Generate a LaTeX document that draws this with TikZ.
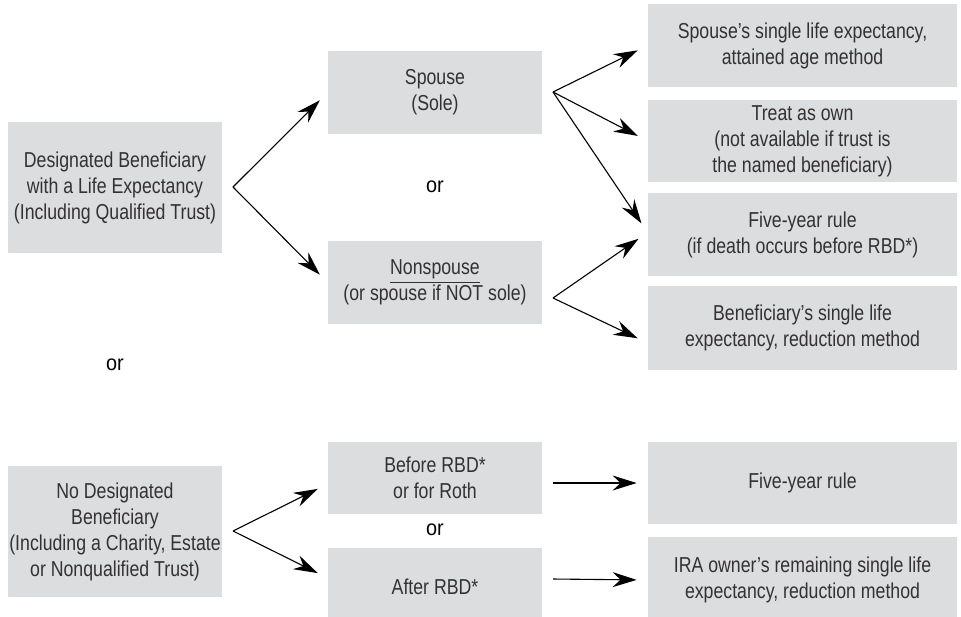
\documentclass[tikz,border=0pt]{standalone}
\usepackage{fontspec}
\setmainfont{Liberation Sans}[FakeStretch=0.82]
\newfontfamily\orfont{Liberation Sans}[FakeStretch=0.92]
\usetikzlibrary{arrows.meta}
\definecolor{boxgray}{RGB}{220,221,223}
\definecolor{inkgray}{RGB}{50,50,50}

\tikzset{
  box/.style={fill=boxgray, inner sep=0pt, align=center, text=inkgray,
              font=\fontsize{10.8}{13}\selectfont},
  leftbox/.style={box, minimum width=107pt, minimum height=65.5pt},
  midbox/.style={box, minimum width=107pt},
  rightbox/.style={box, minimum width=154.5pt},
  orlabel/.style={font=\orfont\fontsize{10.8}{13}\selectfont, text=black},
  arr/.style={-{Stealth[length=12pt,width=7.5pt,inset=4pt]}, line width=0.55pt,
              shorten >=5.5pt}
}

\begin{document}
\begin{tikzpicture}[x=0.5pt,y=-0.5pt]

		\useasboundingbox (0,0) rectangle (961,616);

		% designated beneficiary branch
		\node[leftbox] (desig) at (115,187.5) {Designated Beneficiary\\with a Life Expectancy\\(Including Qualified Trust)};
		\node[midbox, minimum height=41.5pt] (spouse) at (435,92.5) {Spouse\\(Sole)};
		\node[midbox, minimum height=41.5pt] (nonsp)  at (435,282.5) {\underline{Nonspouse}\\(or spouse if NOT sole)};

		\node[rightbox, minimum height=41.5pt] (attain) at (802.5,45.5) {Spouse’s single life expectancy,\\attained age method};
		\node[rightbox, minimum height=41pt]   (own)    at (802.5,141) {Treat as own\\(not available if trust is\\the named beneficiary)};
		\node[rightbox, minimum height=41.5pt] (five)   at (802.5,234.5) {Five-year rule\\(if death occurs before RBD*)};
		\node[rightbox, minimum height=42pt]   (benef)  at (802.5,328) {Beneficiary’s single life\\expectancy, reduction method};

		% no designated beneficiary branch
		\node[leftbox] (nodesig) at (115,531.5) {No Designated\\Beneficiary\\(Including a Charity, Estate\\or Nonqualified Trust)};
		\node[midbox, minimum height=36pt] (before) at (435,478) {Before RBD*\\or for Roth};
		\node[midbox, minimum height=39pt] (after)  at (435,587) {After RBD*};

		\node[rightbox, minimum height=41pt] (fivetwo) at (802.5,483) {Five-year rule};
		\node[rightbox, minimum height=43pt] (owner)   at (802.5,580) {IRA owner’s remaining single life\\expectancy, reduction method};

		% or labels
		\node[orlabel] (or1) at (435,187) {or};
		\node[orlabel] (or2) at (115,365) {or};
		\node[orlabel] (or3) at (435,530) {or};

		% fork points
		\coordinate (f1) at (233,187);
		\coordinate (f2) at (553,92);
		\coordinate (f3) at (553,298);
		\coordinate (f4) at (233,531);
		\coordinate (h1) at (553,483);
		\coordinate (h2) at (553,579);

		\draw[arr] (f1) to (spouse.west); \draw[arr] (f1) to (nonsp.west);
		\draw[arr] (f2) to (attain.west); \draw[arr] (f2) to (own.west); \draw[arr] (f2) to ([yshift=1pt]five.west);
		\draw[arr] (f3) to ([yshift=1pt]five.west); \draw[arr] (f3) to ([yshift=-7.5pt]benef.west);
		\draw[arr] (f4) to ([yshift=-3pt]before.west); \draw[arr] (f4) to ([yshift=4.5pt]after.west);
		\draw[arr] (h1) to (fivetwo.west);
		\draw[arr] (h2) to (owner.west);

\end{tikzpicture}
\end{document}
